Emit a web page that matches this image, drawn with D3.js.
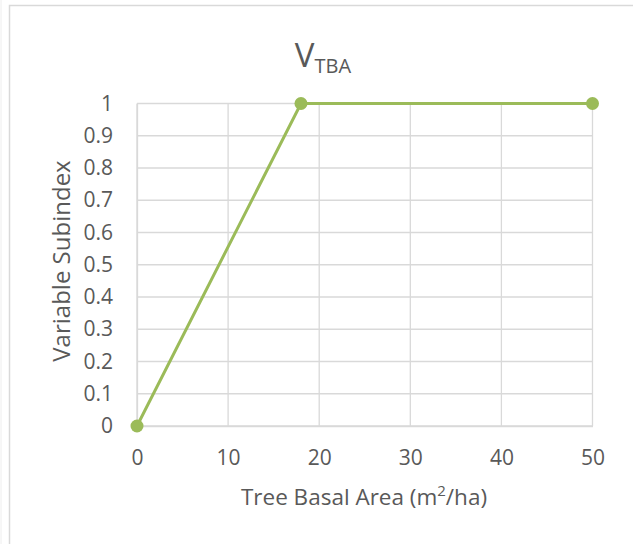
<!DOCTYPE html>
<html><head><meta charset="utf-8">
<script src="https://cdn.jsdelivr.net/npm/d3@7"></script>
<style>body{margin:0;background:#fff}text{font-family:"Open Sans",Calibri,sans-serif}</style>
</head><body>
<svg id="c" width="633" height="544"></svg>
<script>
const xValues = [0, 18, 50];
const yValues = [0, 1, 1];
const xTicks = [0, 10, 20, 30, 40, 50];
const yTicks = [0, 0.1, 0.2, 0.3, 0.4, 0.5, 0.6, 0.7, 0.8, 0.9, 1];
const titleMain = "V";
const titleSub = "TBA";
const xTitle = "Tree Basal Area (m";
const yTitle = "Variable Subindex";

const svg = d3.select("#c");
// chart border
svg.append("rect").attr("x", 9.5).attr("y", 5.5).attr("width", 640).attr("height", 560)
  .attr("fill", "none").attr("stroke", "#d9d9d9").attr("stroke-width", 1.5);
svg.append("line").attr("x1", 1).attr("x2", 1).attr("y1", 0).attr("y2", 544)
  .attr("stroke", "#eeeeee");

const x = d3.scaleLinear().domain([0, 50]).range([137, 592.5]);
const y = d3.scaleLinear().domain([0, 1]).range([426, 103.5]);
const col = "#595959";

// gridlines
svg.append("g").selectAll("line").data(yTicks).join("line")
  .attr("x1", x(0)).attr("x2", x(50)).attr("y1", d => y(d)).attr("y2", d => y(d))
  .attr("stroke", "#d9d9d9").attr("stroke-width", 1.3);
svg.append("g").selectAll("line").data(xTicks).join("line")
  .attr("y1", y(0)).attr("y2", y(1)).attr("x1", d => x(d)).attr("x2", d => x(d))
  .attr("stroke", "#d9d9d9").attr("stroke-width", 1.3);

// axes
const xa = svg.append("g").attr("transform", `translate(0,${y(0)})`)
  .call(d3.axisBottom(x).tickValues(xTicks).tickSize(0).tickPadding(24.5).tickFormat(d3.format("d")));
xa.select(".domain").attr("stroke", "#d9d9d9").attr("stroke-width", 1.3);
xa.selectAll("text").attr("font-size", 21).attr("fill", col).attr("font-family", "Open Sans");

const ya = svg.append("g").attr("transform", `translate(${x(0)},0)`)
  .call(d3.axisLeft(y).tickValues(yTicks).tickSize(0).tickPadding(24).tickFormat(d => d3.format("")(+d.toFixed(1))));
ya.select(".domain").attr("stroke", "#d9d9d9").attr("stroke-width", 1.3);
ya.selectAll("text").attr("font-size", 21).attr("fill", col).attr("font-family", "Open Sans");

// title
const t = svg.append("text").attr("x", 323).attr("y", 67).attr("text-anchor", "middle")
  .attr("fill", col).attr("font-size", 33);
t.append("tspan").text(titleMain);
t.append("tspan").attr("font-size", 20).attr("dy", 6).text(titleSub);

// x title
const xt = svg.append("text").attr("x", 364).attr("y", 505).attr("text-anchor", "middle")
  .attr("fill", col).attr("font-size", 22.5);
xt.append("tspan").text(xTitle);
xt.append("tspan").attr("font-size", 15).attr("dy", -9).text("2");
xt.append("tspan").attr("dy", 9).text("/ha)");

// y title
svg.append("text").attr("transform", `translate(70,261) rotate(-90)`).attr("text-anchor", "middle")
  .attr("fill", col).attr("font-size", 24).text(yTitle);

// line
const data = xValues.map((v, i) => ({x: v, y: yValues[i]}));
svg.append("path").datum(data)
  .attr("d", d3.line().x(d => x(d.x)).y(d => y(d.y)))
  .attr("fill", "none").attr("stroke", "#9bbb59").attr("stroke-width", 3);
svg.append("g").selectAll("circle").data(data).join("circle")
  .attr("cx", d => x(d.x)).attr("cy", d => y(d.y)).attr("r", 6.5).attr("fill", "#9bbb59");
</script>
</body></html>
